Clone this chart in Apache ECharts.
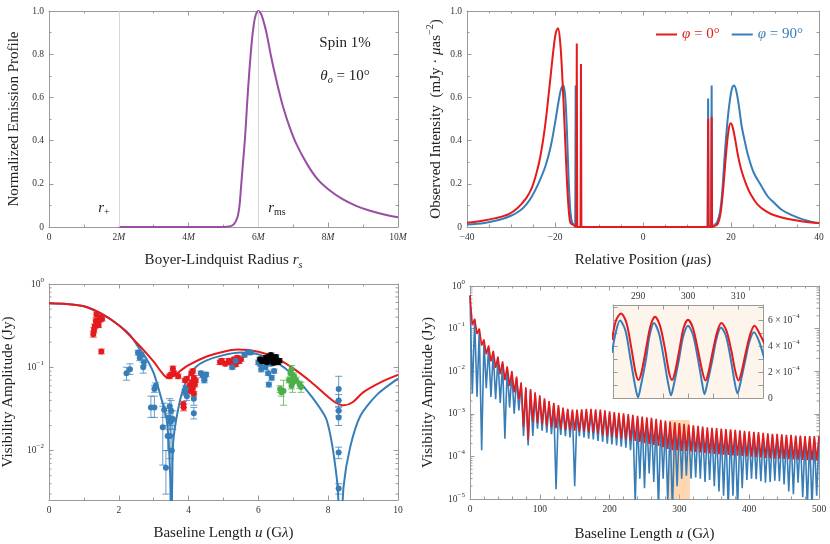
<!DOCTYPE html>
<html><head><meta charset="utf-8">
<script src="https://cdn.jsdelivr.net/npm/echarts@6/dist/echarts.min.js"></script>
<style>html,body{margin:0;padding:0;background:#fff}#c{width:830px;height:544px}</style>
</head><body><div id="c"></div>
<script>
// ---------------- DATA ----------------
// Panel 1: normalized emission profile vs Boyer-Lindquist radius (units of M)
const emitR = [2, 5.0, 5.2, 5.3, 5.4, 5.46, 5.5, 5.56, 5.62, 5.68, 5.74, 5.8, 5.87, 5.93, 6.0, 6.08, 6.16, 6.25, 6.35, 6.5, 6.7, 6.9, 7.1, 7.4, 7.7, 8.0, 8.4, 8.8, 9.2, 9.6, 10];
const emitI = [0, 0, 0.004, 0.013, 0.045, 0.1, 0.18, 0.3, 0.42, 0.58, 0.72, 0.84, 0.94, 0.985, 1.0, 0.985, 0.945, 0.885, 0.8, 0.69, 0.56, 0.46, 0.38, 0.29, 0.22, 0.175, 0.13, 0.098, 0.075, 0.058, 0.045];
const radiusMarks = [2, 6];

// Panel 2: observed intensity profiles [position, intensity]
const red0Left = [[-40,0.02],[-36.5,0.029],[-33.5,0.041],[-30.5,0.06],[-28.5,0.088],[-26.5,0.135],[-25.3,0.18],[-24.2,0.25],[-23.3,0.33],[-22.3,0.46],[-21.3,0.64],[-20.3,0.83],[-19.8,0.9],[-19.3,0.92],[-18.8,0.85],[-18.4,0.72],[-18.0,0.55],[-17.6,0.36],[-17.2,0.18],[-16.8,0.06],[-16.5,0.02],[-16.1,0.012],[-15.8,0.01]];
const red0Spikes = [[-15.8,0.01],[-15.15,0],[-15.05,0.85],[-14.95,0],[-14.2,0],[-14.1,0.755],[-14.0,0],[14.7,0],[14.8,0.5],[14.9,0],[15.5,0],[15.6,0.51],[15.7,0],[16.4,0.005]];
const red0Right = [[16.4,0.005],[17.0,0.015],[17.6,0.06],[18.2,0.17],[18.8,0.32],[19.4,0.44],[19.9,0.48],[20.4,0.46],[21.0,0.4],[21.6,0.33],[22.4,0.26],[23.4,0.2],[24.5,0.15],[26,0.105],[28,0.072],[30,0.053],[33,0.037],[36,0.027],[40,0.018]];
const blue90Left = [[-40,0.012],[-36,0.019],[-32.8,0.032],[-30,0.052],[-28,0.075],[-26.5,0.105],[-25.3,0.14],[-23.8,0.2],[-22.2,0.28],[-21,0.37],[-20,0.48],[-19.2,0.58],[-18.6,0.64],[-18.1,0.655],[-17.7,0.61],[-17.3,0.45],[-16.9,0.22],[-16.5,0.07],[-16.1,0.02],[-15.7,0.012]];
const blue90Spikes = [[-15.7,0.012],[-15.4,0],[-15.3,0.655],[-15.2,0],[14.7,0],[14.8,0.595],[14.9,0],[15.5,0],[15.6,0.655],[15.7,0],[16.2,0.01]];
const blue90Right = [[16.2,0.01],[16.8,0.02],[17.5,0.07],[18.0,0.16],[18.6,0.34],[19.2,0.49],[19.7,0.58],[20.2,0.64],[20.7,0.655],[21.2,0.63],[21.8,0.56],[22.4,0.47],[23.1,0.4],[23.9,0.33],[25.2,0.25],[26.9,0.19],[28.4,0.14],[29.9,0.11],[31.5,0.08],[33.7,0.056],[36.5,0.034],[40,0.017]];

// Panel 3: model visibility amplitudes [u (Glambda), Jy]
const red3 = [[0,0.586],[0.5,0.575],[1,0.54],[1.5,0.44],[2,0.32],[2.5,0.2],[3,0.117],[3.2,0.09],[3.4,0.075],[3.6,0.08],[3.8,0.093],[4,0.106],[4.5,0.134],[5,0.154],[5.4,0.163],[6,0.154],[6.5,0.13],[7,0.097],[7.5,0.067],[8,0.044],[8.2,0.038],[8.45,0.035],[8.7,0.038],[9,0.05],[9.5,0.066],[10,0.081]];
const blue3 = [[0,0.586],[0.5,0.575],[1,0.54],[1.5,0.44],[2,0.32],[2.3,0.25],[2.6,0.165],[2.8,0.125],[3.0,0.085],[3.2,0.045],[3.375,0.023],[3.47,0.0054],[3.5,0.0008],[3.53,0.004],[3.565,0.0135],[3.76,0.041],[3.95,0.071],[4.2,0.1],[4.5,0.12],[5,0.14],[5.5,0.15],[6,0.143],[6.5,0.116],[7,0.08],[7.5,0.046],[7.96,0.023],[8.25,0.0045],[8.36,0.0008],[8.44,0.0037],[8.63,0.011],[8.92,0.026],[9.4,0.047],[10,0.073]];
// Panel 3: measured points [u, amplitude, lower, upper]
const obsRed = [[1.27,0.25,0.23,0.27],[1.29,0.28,0.26,0.30],[1.31,0.31,0.29,0.33],[1.34,0.36,0.33,0.39],[1.36,0.43,0.40,0.46],[1.39,0.34,0.32,0.36],[1.42,0.32,0.30,0.34],[1.45,0.37,0.35,0.39],[1.48,0.40,0.38,0.42],[1.52,0.38,0.36,0.40],[1.5,0.155,0.145,0.165],
 [3.45,0.078,0.073,0.083],[3.5,0.082,0.077,0.087],[3.55,0.097,0.091,0.103],[3.58,0.085,0.08,0.09],[3.7,0.078,0.073,0.083],[3.85,0.036,0.033,0.039],[3.86,0.033,0.03,0.036],[3.9,0.07,0.066,0.074],[3.95,0.073,0.069,0.077],
 [4.02,0.06,0.055,0.065],[4.05,0.052,0.048,0.056],[4.08,0.085,0.08,0.09],[4.1,0.066,0.062,0.07],[4.12,0.056,0.052,0.06],[4.15,0.075,0.07,0.08],[4.15,0.048,0.045,0.051],[4.18,0.062,0.058,0.066],[4.2,0.07,0.066,0.074],[4.12,0.09,0.085,0.095],
 [4.9,0.115,0.108,0.122],[4.95,0.12,0.113,0.127],[5.05,0.11,0.104,0.116],[5.15,0.12,0.113,0.127],[5.2,0.115,0.108,0.122],[5.3,0.125,0.118,0.132],[5.35,0.108,0.102,0.114],[5.4,0.13,0.122,0.138],[5.45,0.118,0.111,0.125],[5.5,0.125,0.118,0.132]];
const obsBlue = [[2.22,0.085,0.07,0.1],[2.32,0.095,0.082,0.11],[2.55,0.15,0.14,0.16],[2.6,0.13,0.12,0.14],[2.65,0.14,0.13,0.15],[2.7,0.1,0.085,0.115],[2.72,0.115,0.105,0.125],
 [2.92,0.033,0.025,0.045],[3.02,0.033,0.025,0.045],[3.02,0.055,0.05,0.06],[3.06,0.06,0.055,0.065],[3.26,0.019,0.0067,0.034],[3.3,0.031,0.025,0.037],[3.35,0.0062,0.003,0.01],[3.4,0.015,0.01,0.02],[3.44,0.025,0.018,0.032],[3.46,0.034,0.028,0.042],[3.5,0.03,0.022,0.04],[3.48,0.022,0.015,0.03],[3.52,0.01,0.002,0.02],[3.47,0.015,0.008,0.022],[3.55,0.024,0.018,0.03],
 [3.9,0.05,0.046,0.054],[3.92,0.055,0.05,0.06],[3.95,0.045,0.04,0.05],[4.15,0.042,0.035,0.048],[4.15,0.028,0.024,0.033],[4.35,0.085,0.08,0.09],[4.4,0.08,0.075,0.085],[4.45,0.07,0.065,0.075],[4.5,0.082,0.077,0.087],[4.45,0.075,0.07,0.08],
 [5.25,0.1,0.095,0.105],[5.35,0.12,0.113,0.127],[5.6,0.14,0.133,0.147],[5.7,0.15,0.143,0.157],[5.78,0.15,0.143,0.157],
 [6.0,0.115,0.108,0.122],[6.05,0.11,0.104,0.116],[6.08,0.095,0.088,0.102],[6.2,0.1,0.094,0.106],[6.28,0.085,0.08,0.09],[6.3,0.062,0.058,0.066],[6.38,0.075,0.07,0.08],[6.45,0.09,0.085,0.095],[6.35,0.11,0.104,0.116],[6.05,0.12,0.113,0.127],
 [8.3,0.055,0.04,0.078],[8.3,0.04,0.033,0.047],[8.3,0.03,0.026,0.034],[8.3,0.025,0.02,0.03],[8.3,0.0095,0.008,0.011],[8.3,0.0035,0.003,0.004]];
const obsBlack = [[6.05,0.125,0.118,0.132],[6.1,0.118,0.111,0.125],[6.18,0.12,0.113,0.127],[6.22,0.13,0.122,0.138],[6.28,0.125,0.118,0.132],[6.32,0.135,0.127,0.143],[6.36,0.14,0.132,0.148],[6.4,0.128,0.12,0.136],[6.45,0.122,0.115,0.129],[6.5,0.133,0.125,0.141],[6.55,0.115,0.108,0.122],[6.6,0.12,0.113,0.127],[6.42,0.113,0.106,0.12],[6.25,0.115,0.108,0.122],[6.48,0.125,0.118,0.132]];
const obsGreen = [[6.62,0.055,0.05,0.06],[6.66,0.05,0.045,0.055],[6.72,0.052,0.035,0.07],[6.88,0.07,0.065,0.075],[6.92,0.085,0.078,0.092],[6.95,0.095,0.085,0.105],[6.98,0.065,0.05,0.08],[6.95,0.06,0.055,0.065],[7.02,0.078,0.07,0.086],[7.08,0.07,0.064,0.076],[7.18,0.062,0.056,0.068],[7.22,0.058,0.05,0.066],[7.0,0.075,0.068,0.082]];

// Panel 4: long-baseline visibility, local maxima and minima [u, red (phi=0), blue (phi=90)]
const p4Peaks = [[0,0.6,0.6],[6.7,0.17,0.16],[13.3,0.1,0.09],[20,0.055,0.05],[26.7,0.04,0.036],[33.3,0.03,0.027],[40,0.022,0.02],[46.7,0.017,0.015],[53.3,0.013,0.012],[60,0.01,0.009],[66.7,0.0075,0.0068],[73.3,0.0055,0.005],[80,0.0042,0.0038],[86.7,0.0038,0.0034],[93.3,0.0032,0.0029],[100,0.0027,0.0024],[106.7,0.0023,0.0021],[113.3,0.002,0.0018],[120,0.0018,0.0016],[126.7,0.0016,0.0014],[133.3,0.0014,0.0013],[140,0.0013,0.0012],[146.7,0.00125,0.00113],[153.3,0.00125,0.00113],[160,0.00128,0.00115],[166.7,0.0013,0.00117],[173.3,0.0013,0.00117],[180,0.00128,0.00115],[186.7,0.00125,0.00113],[193.3,0.0012,0.00108],[200,0.00115,0.00104],[206.7,0.0011,0.001],[213.3,0.00106,0.00096],[220,0.00102,0.00092],[226.7,0.00098,0.00088],[233.3,0.00094,0.00085],[240,0.0009,0.00081],[246.7,0.00086,0.00078],[253.3,0.00083,0.00075],[260,0.0008,0.00072],[266.7,0.00076,0.00069],[273.3,0.00072,0.00065],[280,0.00069,0.00062],[286.7,0.000655,0.0006],[293.3,0.00063,0.00058],[300,0.000605,0.00056],[306.7,0.00058,0.000545],[313.3,0.00056,0.00051],[320,0.00054,0.00049],[326.7,0.00052,0.00047],[333.3,0.0005,0.00045],[340,0.00048,0.00043],[346.7,0.00047,0.00042],[353.3,0.00046,0.00041],[360,0.00045,0.0004],[366.7,0.00044,0.0004],[373.3,0.00043,0.00039],[380,0.00042,0.00038],[386.7,0.00041,0.00037],[393.3,0.0004,0.00036],[400,0.00039,0.00035],[406.7,0.00038,0.00034],[413.3,0.00037,0.00033],[420,0.00036,0.00032],[426.7,0.00035,0.00031],[433.3,0.00034,0.00031],[440,0.00034,0.0003],[446.7,0.00033,0.0003],[453.3,0.00032,0.00029],[460,0.00032,0.00029],[466.7,0.00031,0.00028],[473.3,0.00031,0.00028],[480,0.0003,0.00027],[486.7,0.0003,0.00027],[493.3,0.0003,0.00027],[500,0.0003,0.00027]];
const p4Troughs = [[3.3,0.12,0.003],[10,0.075,0.0025],[16.7,0.04,0.00014],[23.3,0.025,0.004],[30,0.017,0.0025],[36.7,0.012,0.0022],[43.3,0.0085,0.0018],[50,0.0062,0.00026],[56.7,0.0045,0.0014],[63.3,0.0032,0.001],[70,0.0022,0.0012],[76.7,0.0005,0.0003],[83.3,0.00025,0.00018],[90,0.00065,0.0003],[96.7,0.0006,0.00045],[103.3,0.00056,0.0004],[110,0.00052,0.00036],[116.7,0.00049,0.00033],[123.3,0.00046,0.000017],[130,0.00044,0.00032],[136.7,0.00042,0.0003],[143.3,0.00041,0.00028],[150,0.0004,0.00002],[156.7,0.00039,0.0003],[163.3,0.00038,0.00028],[170,0.00037,0.00026],[176.7,0.00036,0.00025],[183.3,0.00034,0.00023],[190,0.00032,0.00022],[196.7,0.0003,0.0002],[203.3,0.000285,0.00019],[210,0.00027,0.00018],[216.7,0.00026,0.00017],[223.3,0.00025,0.00016],[230,0.00024,0.00014],[236.7,0.00023,0.000008],[243.3,0.00022,0.00003],[250,0.000205,0.000018],[256.7,0.000195,0.00004],[263.3,0.000185,0.000025],[270,0.000175,0.000006],[276.7,0.000165,0.00003],[283.3,0.00015,0.000008],[290,0.00014,0.000005],[296.7,0.00014,0.00002],[303.3,0.000135,0.00003],[310,0.000135,0.000035],[316.7,0.00013,0.00003],[323.3,0.000127,0.000032],[330,0.000124,0.00003],[336.7,0.000121,0.000025],[343.3,0.000118,0.000028],[350,0.000115,0.00002],[356.7,0.000112,0.000015],[363.3,0.00011,0.000012],[370,0.000108,0.000006],[376.7,0.000106,0.000012],[383.3,0.000104,0.000006],[390,0.000102,0.000018],[396.7,0.0001,0.000028],[403.3,0.000098,0.00003],[410,0.000096,0.000029],[416.7,0.000094,0.000026],[423.3,0.000092,0.000024],[430,0.00009,0.000025],[436.7,0.000089,0.000027],[443.3,0.000088,0.000026],[450,0.000087,0.000022],[456.7,0.000086,0.000015],[463.3,0.000085,0.000013],[470,0.000084,0.000024],[476.7,0.000083,0.000011],[483.3,0.000082,0.000007],[490,0.000081,0.000006],[496.7,0.00008,0.000012]];
// Inset (linear scale) [u, amplitude]
const insetRed = [[284.8,4.5e-4],[285.6,6.0e-4],[286.6,6.55e-4],[287.7,5.8e-4],[288.7,3.8e-4],[289.5,2.0e-4],[290.1,1.4e-4],[290.7,2.0e-4],[291.6,3.8e-4],[292.5,5.6e-4],[293.4,6.3e-4],[294.4,5.6e-4],[295.4,3.8e-4],[296.2,2.0e-4],[296.8,1.4e-4],[297.4,2.0e-4],[298.3,3.8e-4],[299.1,5.4e-4],[300.0,6.05e-4],[301.0,5.4e-4],[302.0,3.7e-4],[302.9,2.0e-4],[303.5,1.35e-4],[304.1,2.0e-4],[305.0,3.7e-4],[305.9,5.2e-4],[306.7,5.8e-4],[307.7,5.2e-4],[308.7,3.6e-4],[309.5,2.0e-4],[310.1,1.35e-4],[310.7,2.0e-4],[311.6,3.6e-4],[312.5,5.0e-4],[313.3,5.6e-4],[314.3,5.0e-4],[315.3,4.2e-4]];
const insetBlue = [[284.8,3.5e-4],[285.5,5.0e-4],[286.4,6.0e-4],[287.5,5.2e-4],[288.5,3.0e-4],[289.4,1.0e-4],[290.0,0.05e-4],[290.6,1.0e-4],[291.6,3.0e-4],[292.3,4.8e-4],[293.2,5.8e-4],[294.2,5.0e-4],[295.2,3.0e-4],[296.0,1.2e-4],[296.6,0.2e-4],[297.2,1.1e-4],[298.2,3.0e-4],[299.0,4.7e-4],[300.0,5.6e-4],[301.0,4.9e-4],[302.0,3.0e-4],[302.8,1.2e-4],[303.3,0.3e-4],[303.9,1.2e-4],[304.9,3.0e-4],[305.7,4.6e-4],[306.6,5.45e-4],[307.6,4.8e-4],[308.6,2.9e-4],[309.3,1.3e-4],[309.9,0.35e-4],[310.5,1.2e-4],[311.5,3.0e-4],[312.3,4.4e-4],[313.2,5.1e-4],[314.2,4.4e-4],[315.3,3.0e-4]];
const zoomBand = [285, 315, 7.2e-4];
// Minor log tick values
const p3MinorTicks = [0.003,0.004,0.005,0.006,0.007,0.008,0.009,0.02,0.03,0.04,0.05,0.06,0.07,0.08,0.09,0.2,0.3,0.4,0.5,0.6,0.7,0.8,0.9];
const p4MinorTicks = [2e-5,3e-5,4e-5,5e-5,6e-5,7e-5,8e-5,9e-5,2e-4,3e-4,4e-4,5e-4,6e-4,7e-4,8e-4,9e-4,2e-3,3e-3,4e-3,5e-3,6e-3,7e-3,8e-3,9e-3,0.02,0.03,0.04,0.05,0.06,0.07,0.08,0.09,0.2,0.3,0.4,0.5,0.6,0.7,0.8,0.9];

// ---------------- STYLE ----------------
const FONT = '"Liberation Serif", "DejaVu Serif", serif';
const AX = '#9a9a9a', LBL = '#333', TXT = '#222';
const RED = '#e41a1c', BLUE = '#377eb8', PURPLE = '#984ea3', GREEN = '#4daf4a';
const N0 = 'φ = 0°', N90 = 'φ = 90°';

function richSet(size, color) {
  const s = Math.round(size * 0.68);
  return {
    it: {fontFamily: FONT, fontSize: size, fontStyle: 'italic', color: color},
    sub: {fontFamily: FONT, fontSize: s, fontStyle: 'italic', color: color, lineHeight: s, padding: [Math.round(size * 0.6), 0, 0, 0]},
    subr: {fontFamily: FONT, fontSize: s, color: color, lineHeight: s, padding: [Math.round(size * 0.6), 0, 0, 0]},
    sup: {fontFamily: FONT, fontSize: s, color: color, lineHeight: s, padding: [0, 0, Math.round(size * 0.75), 0]}
  };
}
const R15 = richSet(15, TXT);
const RL = {
  it: {fontFamily: FONT, fontSize: 9.5, fontStyle: 'italic', color: LBL},
  sup: {fontFamily: FONT, fontSize: 7, color: LBL, lineHeight: 7, padding: [0, 0, 8, 0]}
};

function mkAxis(grid, pos, sc, lab, name) {
  const a = {
    gridIndex: grid, position: pos, type: sc.type || 'value',
    min: sc.min, max: sc.max, z: sc.z || 0,
    axisLine: {show: true, onZero: false, lineStyle: {color: AX, width: 1}},
    axisTick: {show: true, inside: true, length: 4.5, lineStyle: {color: AX, width: 1}},
    minorTick: sc.minor ? {show: true, splitNumber: sc.minor, length: 2.5, lineStyle: {color: AX, width: 1}} : {show: false},
    splitLine: {show: false}, minorSplitLine: {show: false},
    axisLabel: lab ? Object.assign({show: true, color: LBL, fontFamily: FONT, fontSize: 9.5, margin: 5, rich: RL, showMinLabel: true, showMaxLabel: true, hideOverlap: false}, lab) : {show: false}
  };
  if (sc.interval != null) a.interval = sc.interval;
  if (name) {
    a.name = name.text; a.nameLocation = 'middle'; a.nameGap = name.gap;
    a.nameTextStyle = {fontFamily: FONT, fontSize: 15, color: TXT, rich: R15};
  }
  return a;
}
const fmt1 = v => (Math.abs(v) < 1e-9 ? '0' : v.toFixed(1));
const fmtM = v => (v === 0 ? '0' : Math.round(v) + '{it|M}');
const fmtSigned = v => (v < 0 ? '\u2212' + (-v) : String(v));
const fmtLog = v => {
  const e = Math.log10(v), r = Math.round(e);
  if (Math.abs(e - r) > 1e-6) return '';
  return '10{sup|' + (r < 0 ? '\u2212' + (-r) : r) + '}';
};
const fmtInsetX = v => (Math.round(v) % 10 === 0 ? String(Math.round(v)) : '');
const fmtInsetY = v => {
  const k = Math.round(v * 1e4);
  if (Math.abs(v * 1e4 - k) > 1e-3 || k % 2) return '';
  return k === 0 ? '0' : k + ' \u00d7 10{sup|\u22124}';
};

const sc1x = {min: 0, max: 10, interval: 2, minor: 2};
const sc01y = {min: 0, max: 1, interval: 0.2, minor: 2};
const sc2x = {min: -40, max: 40, interval: 20, minor: 4};
const sc3x = {min: 0, max: 10, interval: 2, minor: 2};
const sc3y = {type: 'log', min: 0.00255, max: 1};
const sc4x = {min: 0, max: 500, interval: 100, minor: 5};
const sc4y = {type: 'log', min: 1e-5, max: 1};
const scIx = {min: 285, max: 315, interval: 5, z: 5};
const scIy = {min: 0, max: 7.2e-4, interval: 1e-4, z: 5};

const xAxes = [
  mkAxis(0, 'bottom', sc1x, {formatter: fmtM}, {text: 'Boyer-Lindquist Radius {it|r}{sub|s}', gap: 26}),
  mkAxis(0, 'top', sc1x, null),
  mkAxis(1, 'bottom', sc2x, {formatter: fmtSigned}, {text: 'Relative Position ({it|μ}as)', gap: 26}),
  mkAxis(1, 'top', sc2x, null),
  mkAxis(2, 'bottom', sc3x, {}, {text: 'Baseline Length {it|u} (G{it|λ})', gap: 26}),
  mkAxis(2, 'top', sc3x, null),
  mkAxis(3, 'bottom', sc4x, {}, {text: 'Baseline Length {it|u} (G{it|λ})', gap: 28}),
  mkAxis(3, 'top', sc4x, null),
  mkAxis(4, 'top', scIx, {formatter: fmtInsetX, margin: 4}),
  mkAxis(4, 'bottom', scIx, null)
];
const yAxes = [
  mkAxis(0, 'left', sc01y, {formatter: fmt1}, {text: 'Normalized Emission Profile', gap: 27}),
  mkAxis(0, 'right', sc01y, null),
  mkAxis(1, 'left', sc01y, {formatter: fmt1}, {text: 'Observed Intensity  (mJy · {it|μ}as{sup|−2})', gap: 23}),
  mkAxis(1, 'right', sc01y, null),
  mkAxis(2, 'left', sc3y, {formatter: fmtLog}, {text: 'Visibility Amplitude (Jy)', gap: 33}),
  mkAxis(2, 'right', sc3y, null),
  mkAxis(3, 'left', sc4y, {formatter: fmtLog}, {text: 'Visibility Amplitude (Jy)', gap: 34}),
  mkAxis(3, 'right', sc4y, null),
  mkAxis(4, 'right', scIy, {formatter: fmtInsetY, margin: 5}),
  mkAxis(4, 'left', scIy, null)
];

function line(name, xi, data, color, w, z, smooth) {
  return {type: 'line', name: name, xAxisIndex: xi, yAxisIndex: xi, data: data, symbol: 'none', showSymbol: false,
    smooth: smooth || false, z: z || 2, silent: true, clip: true,
    lineStyle: {color: color, width: w}, itemStyle: {color: color}};
}
function errSeries(data, color) {
  return {type: 'custom', xAxisIndex: 4, yAxisIndex: 4, z: 4, silent: true, clip: true,
    data: data, encode: {x: 0, y: [1, 2, 3]},
    renderItem: function (params, api) {
      const x = api.value(0);
      const a = api.coord([x, api.value(2)]), b = api.coord([x, api.value(3)]);
      const st = {stroke: color, lineWidth: 1, opacity: 0.75};
      return {type: 'group', children: [
        {type: 'line', shape: {x1: a[0], y1: a[1], x2: b[0], y2: b[1]}, style: st},
        {type: 'line', shape: {x1: a[0] - 3.5, y1: a[1], x2: a[0] + 3.5, y2: a[1]}, style: st},
        {type: 'line', shape: {x1: b[0] - 3.5, y1: b[1], x2: b[0] + 3.5, y2: b[1]}, style: st}
      ]};
    }};
}
function ptSeries(data, color) {
  return {type: 'scatter', xAxisIndex: 4, yAxisIndex: 4, z: 5, silent: true, symbol: 'circle', symbolSize: 6,
    data: data.map(d => [d[0], d[1]]), itemStyle: {color: color, opacity: 1}};
}
function minorTicks(xi, vals) {
  return {type: 'custom', xAxisIndex: xi, yAxisIndex: xi, z: 1, silent: true, clip: false,
    data: vals.map(v => [0, v]), encode: {x: 0, y: 1},
    renderItem: function (params, api) {
      const cs = params.coordSys;
      const y = api.coord([api.value(0), api.value(1)])[1];
      if (y < cs.y - 0.5 || y > cs.y + cs.height + 0.5) return null;
      const st = {stroke: AX, lineWidth: 1};
      return {type: 'group', children: [
        {type: 'line', shape: {x1: cs.x, y1: y, x2: cs.x + 2.5, y2: y}, style: st},
        {type: 'line', shape: {x1: cs.x + cs.width, y1: y, x2: cs.x + cs.width - 2.5, y2: y}, style: st}
      ]};
    }};
}

// build panel-4 curves from the extrema tables
const p4Rows = p4Peaks.concat(p4Troughs).sort((a, b) => a[0] - b[0]);
const p4Red = p4Rows.map(r => [r[0], r[1]]);
const p4Blue = p4Rows.map(r => [r[0], r[2]]);

const series = [
  // Panel 1
  Object.assign(line('emission', 0, emitR.map((r, i) => [r, emitI[i]]), PURPLE, 2, 3, 0.3), {
    markLine: {silent: true, symbol: 'none', label: {show: false}, lineStyle: {color: '#d6d6d6', width: 1, type: 'solid'},
      data: radiusMarks.map(r => ({xAxis: r}))}
  }),
  // Panel 2
  line(N90, 2, blue90Left, BLUE, 2, 2, 0.35),
  line(N90, 2, blue90Spikes, BLUE, 2, 2, false),
  line(N90, 2, blue90Right, BLUE, 2, 2, 0.35),
  line(N0, 2, red0Left, RED, 2, 3, 0.35),
  line(N0, 2, red0Spikes, RED, 2, 3, false),
  line(N0, 2, red0Right, RED, 2, 3, 0.35),
  // Panel 3
  line(N90, 4, blue3, BLUE, 2, 2, 0.25),
  line(N0, 4, red3, RED, 2, 3, 0.3),
  errSeries(obsRed, RED), errSeries(obsBlue, BLUE), errSeries(obsBlack, '#000'), errSeries(obsGreen, GREEN),
  ptSeries(obsRed, RED), ptSeries(obsBlue, BLUE), ptSeries(obsBlack, '#000'), ptSeries(obsGreen, GREEN),
  minorTicks(4, p3MinorTicks),
  // Panel 4
  line(N90, 6, p4Blue, BLUE, 1.6, 2, false),
  line(N0, 6, p4Red, RED, 1.6, 3, false),
  {type: 'line', xAxisIndex: 6, yAxisIndex: 6, data: [], z: 10, silent: true,
    markArea: {silent: true, itemStyle: {color: 'rgba(253,174,97,0.5)'},
      data: [[{coord: [zoomBand[0], 1e-5]}, {coord: [zoomBand[1], zoomBand[2]]}]]}},
  minorTicks(6, p4MinorTicks),
  // Inset
  line(N90, 8, insetBlue, BLUE, 2, 6, 0.3),
  line(N0, 8, insetRed, RED, 2, 7, 0.3)
];

const option = {
  animation: false,
  backgroundColor: '#fff',
  grid: [
    {left: 49, top: 11, width: 349, height: 216, outerBoundsMode: 'none'},
    {left: 467, top: 11, width: 352, height: 216, outerBoundsMode: 'none'},
    {left: 49, top: 284, width: 349, height: 216, outerBoundsMode: 'none'},
    {left: 470, top: 286, width: 349, height: 213, outerBoundsMode: 'none'},
    {left: 613, top: 305, width: 150, height: 93, show: true, z: 3, backgroundColor: '#fdf4ec', borderWidth: 0, outerBoundsMode: 'none'}
  ],
  xAxis: xAxes,
  yAxis: yAxes,
  legend: {
    left: 651, top: 22, icon: 'rect', itemWidth: 21, itemHeight: 2, itemGap: 12, selectedMode: false,
    data: [
      {name: N0, textStyle: {color: RED, rich: {it: {fontStyle: 'italic', fontFamily: FONT, fontSize: 15, color: RED}}}},
      {name: N90, textStyle: {color: BLUE, rich: {it: {fontStyle: 'italic', fontFamily: FONT, fontSize: 15, color: BLUE}}}}
    ],
    textStyle: {fontFamily: FONT, fontSize: 15},
    formatter: n => n.replace('φ', '{it|φ}')
  },
  graphic: [
    {type: 'text', x: 345, y: 43, silent: true, style: {text: 'Spin 1%', fontFamily: FONT, fontSize: 15, fill: TXT, align: 'center', verticalAlign: 'middle', textAlign: 'center', textVerticalAlign: 'middle'}},
    {type: 'text', x: 345, y: 76, silent: true, style: {text: '{it|θ}{sub|o} = 10°', rich: R15, fontFamily: FONT, fontSize: 15, fill: TXT, align: 'center', verticalAlign: 'middle', textAlign: 'center', textVerticalAlign: 'middle'}},
    {type: 'text', x: 104, y: 208, silent: true, style: {text: '{it|r}{subr|+}', rich: R15, fontFamily: FONT, fontSize: 15, fill: TXT, align: 'center', verticalAlign: 'middle', textAlign: 'center', textVerticalAlign: 'middle'}},
    {type: 'text', x: 277, y: 208, silent: true, style: {text: '{it|r}{subr|ms}', rich: R15, fontFamily: FONT, fontSize: 15, fill: TXT, align: 'center', verticalAlign: 'middle', textAlign: 'center', textVerticalAlign: 'middle'}}
  ],
  series: series
};
const chart = echarts.init(document.getElementById('c'), null, {renderer: 'canvas'});
chart.setOption(option);
</script></body></html>
